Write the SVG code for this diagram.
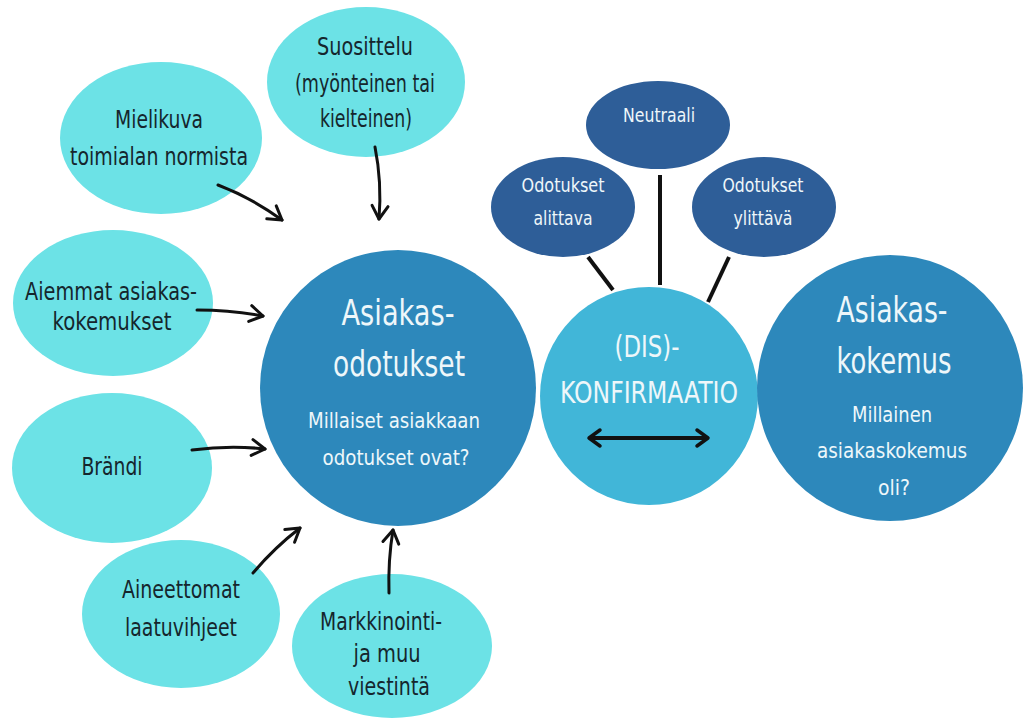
<svg xmlns="http://www.w3.org/2000/svg" width="1023" height="720" viewBox="0 0 1023 720">
<defs>
<marker id="ah" markerUnits="userSpaceOnUse" viewBox="-20 -12 24 24" refX="0" refY="0" markerWidth="24" markerHeight="24" orient="auto-start-reverse">
<path d="M-13,-8 L0,0 L-13,8" fill="none" stroke="#111" stroke-width="3" stroke-linecap="round" stroke-linejoin="round"/>
</marker>
<marker id="ah2" markerUnits="userSpaceOnUse" viewBox="-20 -12 24 24" refX="0" refY="0" markerWidth="24" markerHeight="24" orient="auto-start-reverse">
<path d="M-11,-8 L0,0 L-11,8" fill="none" stroke="#111" stroke-width="3.5" stroke-linecap="round" stroke-linejoin="round"/>
</marker>
</defs>
<style>
text{font-family:"Liberation Sans Narrow","DejaVu Sans Condensed","DejaVu Sans",sans-serif;font-stretch:condensed;text-anchor:middle}
.cy{fill:#6ce2e6}
.bl{fill:#2d88bb}
.dk{fill:#2e5e98}
.ds{fill:#41b6d8}
.tdk{fill:#15262d;font-size:24px}
.tw{fill:#eef7fa}
.big{font-size:35px}
.sub{font-size:22px}
.sm{font-size:20px}
.arr{fill:none;stroke:#111;stroke-width:3;stroke-linecap:round;marker-end:url(#ah)}
.ln{stroke:#111;stroke-width:4;stroke-linecap:butt}
</style>
<rect width="1023" height="720" fill="#ffffff"/>

<g id="suosittelu">
<ellipse class="cy" cx="366" cy="82" rx="99" ry="75"/>
<text class="tdk" x="365" y="55" textLength="96" lengthAdjust="spacingAndGlyphs">Suosittelu</text>
<text class="tdk" x="365" y="92" textLength="140" lengthAdjust="spacingAndGlyphs">(myönteinen tai</text>
<text class="tdk" x="366" y="127" textLength="92" lengthAdjust="spacingAndGlyphs">kielteinen)</text>
</g>
<g id="mielikuva">
<ellipse class="cy" cx="161" cy="138" rx="101" ry="76"/>
<text class="tdk" x="159" y="128" textLength="88" lengthAdjust="spacingAndGlyphs">Mielikuva</text>
<text class="tdk" x="159" y="165" textLength="178" lengthAdjust="spacingAndGlyphs">toimialan normista</text>
</g>
<g id="aiemmat">
<ellipse class="cy" cx="113" cy="303" rx="100" ry="73"/>
<text class="tdk" x="111" y="300" textLength="172" lengthAdjust="spacingAndGlyphs">Aiemmat asiakas-</text>
<text class="tdk" x="112" y="330" textLength="119" lengthAdjust="spacingAndGlyphs">kokemukset</text>
</g>
<g id="brandi">
<ellipse class="cy" cx="112" cy="468" rx="100" ry="75"/>
<text class="tdk" x="112" y="475" textLength="61" lengthAdjust="spacingAndGlyphs">Brändi</text>
</g>
<g id="aineettomat">
<ellipse class="cy" cx="181" cy="614" rx="99" ry="74"/>
<text class="tdk" x="181" y="598" textLength="118" lengthAdjust="spacingAndGlyphs">Aineettomat</text>
<text class="tdk" x="181" y="636" textLength="112" lengthAdjust="spacingAndGlyphs">laatuvihjeet</text>
</g>
<g id="markkinointi">
<ellipse class="cy" cx="392" cy="646" rx="100" ry="72"/>
<text class="tdk" x="381" y="630" textLength="122" lengthAdjust="spacingAndGlyphs">Markkinointi-</text>
<text class="tdk" x="387" y="662" textLength="67" lengthAdjust="spacingAndGlyphs">ja muu</text>
<text class="tdk" x="389" y="695" textLength="82" lengthAdjust="spacingAndGlyphs">viestintä</text>
</g>

<g id="odotukset">
<circle class="bl" cx="398" cy="388" r="138"/>
<text class="tw big" x="398" y="325" textLength="113" lengthAdjust="spacingAndGlyphs">Asiakas-</text>
<text class="tw big" x="399" y="376" textLength="132" lengthAdjust="spacingAndGlyphs">odotukset</text>
<text class="tw sub" x="394" y="428" textLength="172" lengthAdjust="spacingAndGlyphs">Millaiset asiakkaan</text>
<text class="tw sub" x="396" y="465" textLength="147" lengthAdjust="spacingAndGlyphs">odotukset ovat?</text>
</g>

<g id="connectors">
<line class="ln" x1="588" y1="257" x2="613" y2="290"/>
<line class="ln" x1="660" y1="175" x2="660" y2="285"/>
<line class="ln" x1="729" y1="257" x2="708" y2="302"/>
<path class="arr" d="M218,185 Q252,198 282,220"/>
<path class="arr" d="M375,147 Q382,182 379,219"/>
<path class="arr" d="M197,310 Q232,310 263,316"/>
<path class="arr" d="M192,450 Q230,445 265,449"/>
<path class="arr" d="M253,573 Q274,548 300,528"/>
<path class="arr" d="M389,593 Q388,560 393,530"/>
</g>

<g id="alittava">
<ellipse class="dk" cx="563" cy="207" rx="72" ry="50"/>
<text class="tw sm" x="563" y="192" textLength="83" lengthAdjust="spacingAndGlyphs">Odotukset</text>
<text class="tw sm" x="563" y="225" textLength="59" lengthAdjust="spacingAndGlyphs">alittava</text>
</g>
<g id="neutraali">
<ellipse class="dk" cx="658" cy="125" rx="72" ry="44"/>
<text class="tw sm" x="659" y="122" textLength="72" lengthAdjust="spacingAndGlyphs">Neutraali</text>
</g>
<g id="ylittava">
<ellipse class="dk" cx="764" cy="207" rx="72" ry="50"/>
<text class="tw sm" x="763" y="192" textLength="81" lengthAdjust="spacingAndGlyphs">Odotukset</text>
<text class="tw sm" x="763" y="225" textLength="59" lengthAdjust="spacingAndGlyphs">ylittävä</text>
</g>

<g id="konfirmaatio">
<circle class="ds" cx="649" cy="396" r="109"/>
<text class="tw" style="font-size:30px" x="647" y="357" textLength="65" lengthAdjust="spacingAndGlyphs">(DIS)-</text>
<text class="tw" style="font-size:30px" x="649" y="403" textLength="178" lengthAdjust="spacingAndGlyphs">KONFIRMAATIO</text>
<line x1="589" y1="438" x2="708" y2="438" stroke="#111" stroke-width="4" marker-start="url(#ah2)" marker-end="url(#ah2)"/>
</g>

<g id="kokemus">
<circle class="bl" cx="890" cy="388" r="133"/>
<text class="tw big" x="892" y="322" textLength="111" lengthAdjust="spacingAndGlyphs">Asiakas-</text>
<text class="tw big" x="894" y="373" textLength="115" lengthAdjust="spacingAndGlyphs">kokemus</text>
<text class="tw sub" x="892" y="422" textLength="80" lengthAdjust="spacingAndGlyphs">Millainen</text>
<text class="tw sub" x="892" y="458" textLength="150" lengthAdjust="spacingAndGlyphs">asiakaskokemus</text>
<text class="tw sub" x="894" y="495" textLength="32" lengthAdjust="spacingAndGlyphs">oli?</text>
</g>
</svg>
